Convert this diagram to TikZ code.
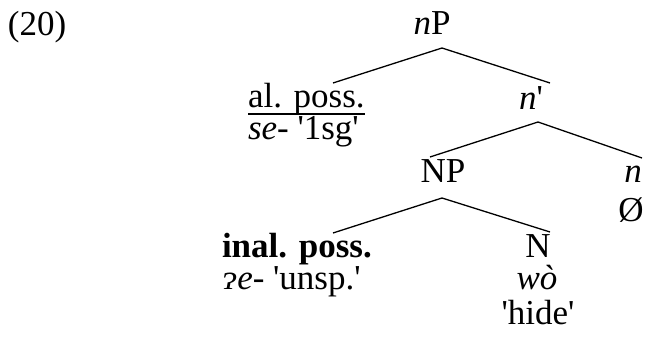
\documentclass[tikz,border=0pt]{standalone}
\usepackage{fontspec}
\setmainfont{Liberation Serif}[Ligatures=TeXOff]
\begin{document}
\begin{tikzpicture}[x=1pt,y=1pt,
  lbl/.style={inner sep=0pt, outer sep=0pt, font=\fontsize{35}{40}\selectfont},
  branch/.style={line width=1.3pt}]
\useasboundingbox (0,0) rectangle (645,339);
\node[lbl, anchor=base west] (ex) at (8,303) {(20)};
\node[lbl, anchor=base] (nP) at (432,304) {\textit{n}P};
\node[lbl, anchor=base west] (al) at (248,231) {al. poss.};
\node[lbl, anchor=base west] (se) at (248,199) {\textit{se}- '1sg'};
\node[lbl, anchor=base] (nbar) at (531,229) {\textit{n}'};
\node[lbl, anchor=base] (NP) at (443,156) {NP};
\node[lbl, anchor=base] (n) at (633,156) {\textit{n}};
\node[lbl, anchor=base] (null) at (631,117) {Ø};
\node[lbl, anchor=base west] (inal) at (222,81) {\textbf{inal. poss.}};
\node[lbl, anchor=base west] (gl) at (222,49) {\textit{ɂe}- 'unsp.'};
\node[lbl, anchor=base] (N) at (538,81) {N};
\node[lbl, anchor=base] (wo) at (537,49) {\textit{wò}};
\node[lbl, anchor=base] (hide) at (538,14) {'hide'};
% underline
\draw[line width=1.5pt] ([yshift=-6pt]al.base west) -- ([yshift=-6pt]al.base east);
% branch points
\coordinate (nPb) at (442,291);
\coordinate (alt) at (333,256);
\coordinate (nbart) at (550,256);
\coordinate (nbarb) at (538,217);
\coordinate (NPt) at (430,182);
\coordinate (nt) at (642,181);
\coordinate (NPb) at (442,141);
\coordinate (inalt) at (333,106);
\coordinate (Nt) at (550,107);
\draw[branch] (alt) -- (nPb) -- (nbart);
\draw[branch] (NPt) -- (nbarb) -- (nt);
\draw[branch] (inalt) -- (NPb) -- (Nt);
\end{tikzpicture}
\end{document}
